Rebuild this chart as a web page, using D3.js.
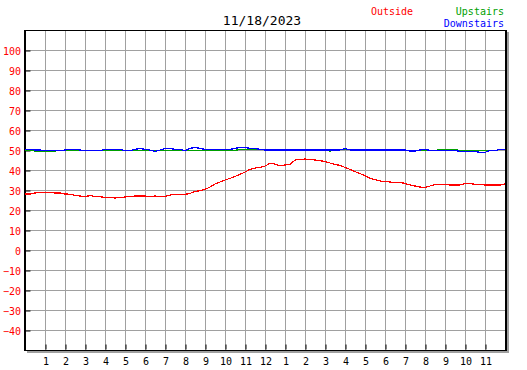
<!DOCTYPE html>
<html>
<head>
<meta charset="utf-8">
<script src="https://cdn.jsdelivr.net/npm/d3@7"></script>
<style>
  body { margin: 0; background: #fff; }
  text { font-family: "DejaVu Sans Mono", monospace; }
</style>
</head>
<body>
<div id="plot"></div>
<script>
//DATA
let title = "11/18/2023";
let sampleMinutes = 15;
let hourLabels = ["1","2","3","4","5","6","7","8","9","10","11","12","1","2","3","4","5","6","7","8","9","10","11"];
let tempTicks = [100, 90, 80, 70, 60, 50, 40, 30, 20, 10, 0, -10, -20, -30, -40];

let outside = [
  28.0, 28.0, 28.5, 28.7, 28.7, 28.7, 28.5, 28.5, 28.0, 27.9, 27.3, 27.0,
  26.7, 27.2, 26.8, 26.7, 26.2, 26.2, 26.0, 26.2, 26.5, 26.7, 27.0, 27.0,
  27.0, 26.8, 27.0, 26.7, 26.8, 27.5, 27.8, 27.8, 27.8, 28.3, 29.2, 29.7,
  30.3, 31.5, 33.0, 34.0, 35.0, 35.8, 36.8, 37.8, 39.0, 40.3, 41.0, 41.3,
  42.0, 43.3, 43.0, 42.0, 42.5, 42.7, 45.0, 45.3, 45.5, 45.3, 45.0, 44.7,
  44.2, 43.5, 42.8, 42.3, 41.3, 40.3, 39.2, 38.2, 37.2, 35.8, 35.2, 34.5,
  34.2, 34.0, 33.8, 33.8, 33.3, 32.5, 32.0, 31.5, 31.3, 32.0, 32.7, 32.8,
  32.8, 32.5, 32.5, 32.5, 33.2, 33.3, 32.8, 32.8, 32.5, 32.5, 32.5, 32.5, 33.0
];

let upstairs = [
  49.8, 49.8, 49.5, 49.5, 49.5, 49.5, 49.5, 49.8, 49.8, 49.8, 49.8, 49.8,
  49.8, 49.8, 49.8, 49.8, 49.8, 49.8, 49.8, 49.8, 49.8, 49.8, 49.8, 49.8,
  49.8, 49.8, 49.8, 49.8, 49.8, 49.8, 49.8, 49.8, 49.8, 49.8, 49.8, 49.8,
  49.8, 49.8, 49.8, 49.8, 49.8, 49.8, 49.8, 50.3, 50.3, 50.3, 50.3, 50.3,
  50.3, 50.3, 50.3, 50.3, 50.3, 50.3, 50.0, 50.0, 50.0, 50.3, 50.0, 50.0,
  50.0, 49.5, 50.0, 50.3, 50.3, 50.3, 50.3, 50.3, 50.3, 50.3, 50.3, 50.3,
  49.8, 49.8, 49.8, 49.8, 49.8, 49.8, 49.8, 49.8, 49.8, 49.8, 49.8, 50.2,
  50.2, 50.2, 50.2, 49.8, 49.8, 49.8, 49.8, 49.8, 49.8, 49.8, 49.8, 50.2, 50.2
];

let downstairs = [
  50.3, 50.3, 50.0, 50.0, 49.7, 49.7, 49.7, 49.7, 50.0, 50.3, 50.3, 50.0,
  49.7, 49.7, 49.7, 49.7, 50.3, 50.3, 50.3, 50.3, 49.7, 49.7, 50.3, 50.8,
  50.3, 50.0, 49.3, 50.0, 50.8, 50.8, 50.3, 50.3, 49.7, 50.8, 51.3, 50.8,
  50.3, 50.3, 50.3, 50.3, 50.3, 50.3, 50.8, 51.3, 51.3, 50.8, 50.8, 50.3,
  50.0, 50.0, 50.0, 50.0, 50.0, 50.0, 50.0, 50.0, 50.0, 50.0, 50.0, 50.0,
  50.0, 50.0, 50.0, 50.0, 50.8, 50.0, 50.0, 50.0, 50.0, 50.0, 50.0, 50.0,
  50.0, 50.0, 50.0, 50.0, 50.0, 49.5, 49.5, 50.0, 50.3, 49.8, 49.8, 49.8,
  49.8, 49.8, 49.8, 49.3, 49.3, 49.3, 49.3, 48.8, 48.8, 49.7, 49.7, 50.3, 50.3
];

let seriesNames = ["Outside", "Upstairs", "Downstairs"];
let seriesColors = ["#ff0000", "#00a000", "#0000ff"];

//GENERAL VARIABLE INITIALIZATION
let w = 527;
let h = 370;
let plotLeft = 25;
let plotRight = 505;
let plotTop = 30;
let plotBottom = 350;

let xScale = d3.scaleLinear()
    .domain([0, 24])
    .range([plotLeft, plotRight]);

let yScale = d3.scaleLinear()
    .domain([-50, 110])
    .range([plotBottom, plotTop]);

let svg = d3.select("#plot").append("svg")
    .attr("width", w)
    .attr("height", h);

//SHADOW
svg.append("rect")
    .attr("x", plotLeft + 2)
    .attr("y", plotTop + 2)
    .attr("width", plotRight - plotLeft + 2)
    .attr("height", plotBottom - plotTop + 1)
    .attr("fill", "#a0a0a0");

svg.append("rect")
    .attr("x", plotLeft)
    .attr("y", plotTop)
    .attr("width", plotRight - plotLeft)
    .attr("height", plotBottom - plotTop)
    .attr("fill", "#fff");

//GRID
let hours = d3.range(1, 24);
svg.append("g").selectAll("line")
    .data(hours)
    .enter().append("line")
    .attr("x1", d => xScale(d) + 0.5)
    .attr("x2", d => xScale(d) + 0.5)
    .attr("y1", plotTop)
    .attr("y2", plotBottom)
    .attr("stroke", "#a0a0a0")
    .attr("stroke-width", 1);

svg.append("g").selectAll("line")
    .data(tempTicks)
    .enter().append("line")
    .attr("x1", plotLeft)
    .attr("x2", plotRight)
    .attr("y1", d => yScale(d) + 0.5)
    .attr("y2", d => yScale(d) + 0.5)
    .attr("stroke", "#a0a0a0")
    .attr("stroke-width", 1);

//BORDER
svg.append("rect")
    .attr("x", plotLeft + 0.5)
    .attr("y", plotTop + 0.5)
    .attr("width", plotRight - plotLeft)
    .attr("height", plotBottom - plotTop)
    .attr("fill", "none")
    .attr("stroke", "#000")
    .attr("stroke-width", 1);

svg.append("line")
    .attr("x1", plotLeft - 0.5).attr("x2", plotLeft - 0.5)
    .attr("y1", plotTop).attr("y2", plotBottom + 1)
    .attr("stroke", "#000");
svg.append("line")
    .attr("x1", plotRight + 1.5).attr("x2", plotRight + 1.5)
    .attr("y1", plotTop).attr("y2", plotBottom + 1)
    .attr("stroke", "#000");

//TICKS
let yAxis = d3.axisLeft(yScale)
    .tickValues(tempTicks)
    .tickSize(-5)
    .tickPadding(4.5)
    .tickFormat(d3.format("d"));

let yAxisG = svg.append("g")
    .attr("transform", "translate(" + (plotLeft + 0.5) + ",0.5)")
    .call(yAxis);
yAxisG.select(".domain").remove();
yAxisG.selectAll(".tick line").attr("stroke", "#000");
yAxisG.selectAll(".tick text")
    .attr("fill", "#ff0000")
    .attr("font-size", 10)
    .attr("font-family", "DejaVu Sans Mono")
    .attr("dy", "0.38em");

let xAxis = d3.axisBottom(xScale)
    .tickValues(hours)
    .tickSize(-5)
    .tickPadding(8)
    .tickFormat((d, i) => hourLabels[i]);

let xAxisG = svg.append("g")
    .attr("transform", "translate(0.5," + (plotBottom - 0.5) + ")")
    .call(xAxis);
xAxisG.select(".domain").remove();
xAxisG.selectAll(".tick line").attr("stroke", "#000");
xAxisG.selectAll(".tick text")
    .attr("fill", "#000")
    .attr("font-size", 10)
    .attr("font-family", "DejaVu Sans Mono");

//LINES
let line = d3.line()
    .x((d, i) => xScale(i * sampleMinutes / 60))
    .y(d => yScale(d));

let allSeries = [outside, upstairs, downstairs];
svg.append("g")
    .selectAll("path")
    .data(allSeries)
    .enter().append("path")
    .attr("d", line)
    .attr("fill", "none")
    .attr("stroke", (d, i) => seriesColors[i])
    .attr("stroke-width", 1.2)
    .attr("shape-rendering", "crispEdges");

//TITLE
svg.append("text")
    .attr("x", 262)
    .attr("y", 25)
    .attr("text-anchor", "middle")
    .attr("font-size", 13)
    .attr("fill", "#000")
    .text(title);

//LEGEND
svg.append("text")
    .attr("x", 371)
    .attr("y", 15)
    .attr("font-size", 10)
    .attr("fill", seriesColors[0])
    .text(seriesNames[0]);

svg.append("text")
    .attr("x", 504)
    .attr("y", 15)
    .attr("text-anchor", "end")
    .attr("font-size", 10)
    .attr("fill", seriesColors[1])
    .text(seriesNames[1]);

svg.append("text")
    .attr("x", 504)
    .attr("y", 27)
    .attr("text-anchor", "end")
    .attr("font-size", 10)
    .attr("fill", seriesColors[2])
    .text(seriesNames[2]);
</script>
</body>
</html>
